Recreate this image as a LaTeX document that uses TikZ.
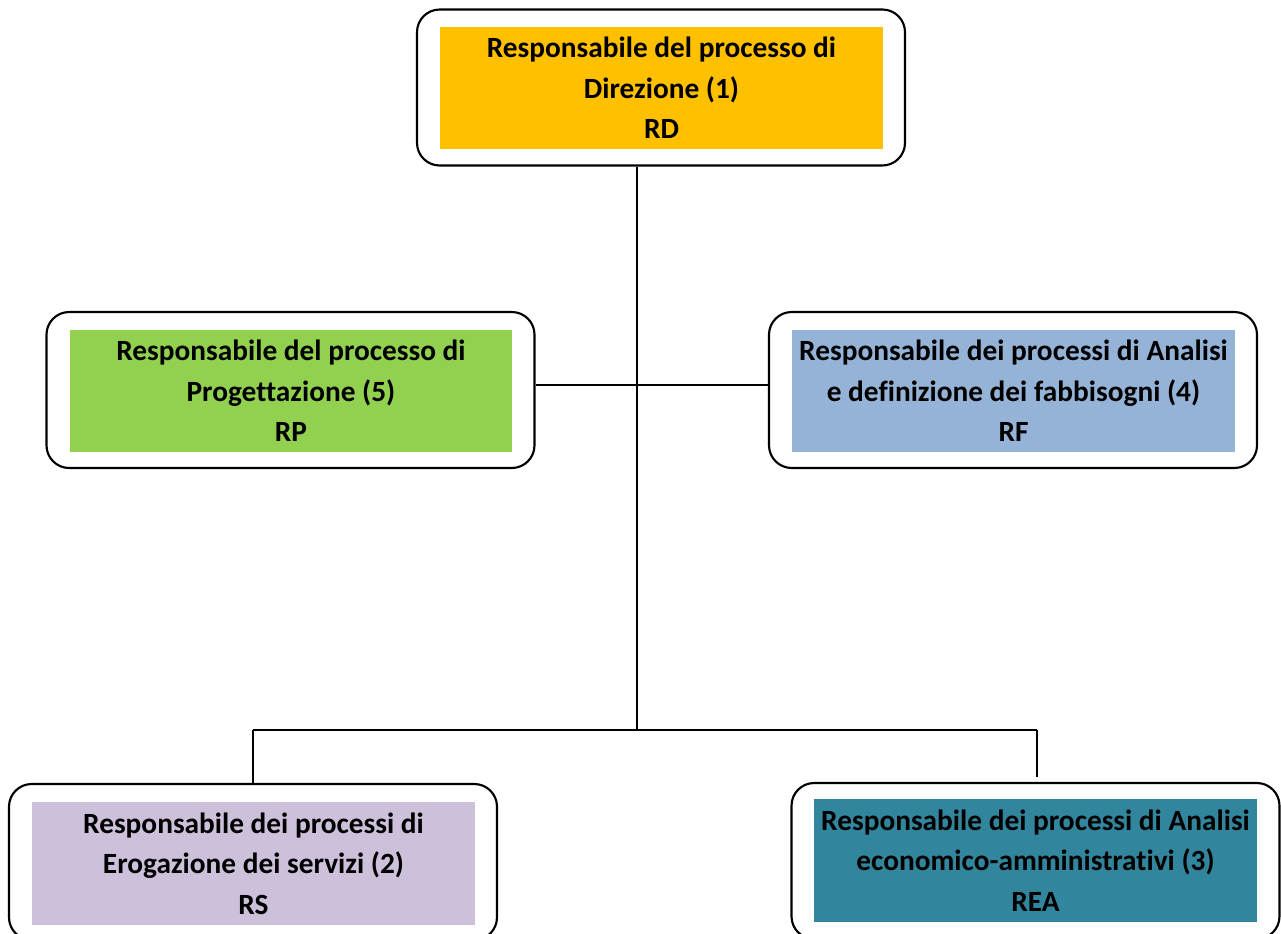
\documentclass[tikz,border=0pt]{standalone}
\usepackage{fontspec}
\setmainfont[Ligatures=NoCommon]{Carlito}
\definecolor{cOrange}{HTML}{FFC000}
\definecolor{cGreen}{HTML}{92D050}
\definecolor{cBlue}{HTML}{95B3D7}
\definecolor{cLilac}{HTML}{CCC0DA}
\definecolor{cTeal}{HTML}{31859C}
\tikzset{
  outerbox/.style={draw=black, line width=1.6pt, rounded corners=17pt, minimum width=366pt, minimum height=117pt, inner sep=0pt},
  innerbox/.style={minimum width=332pt, minimum height=92pt, inner sep=0pt, align=center, font=\fontsize{22}{30.5}\selectfont\bfseries},
  conn/.style={draw=black, line width=1.1pt}
}
\begin{document}
\begin{tikzpicture}[x=0.75pt,y=-0.75pt]
\path[clip] (0,0) rectangle (1281,933);
\fill[white] (0,0) rectangle (1281,933);
% boxes
\node[outerbox] (rdo) at (661,87.5) {};
\node[innerbox, fill=cOrange] (rd) at (661.5,88) {Responsabile del processo di\\Direzione (1)\\RD};
\node[outerbox] (rpo) at (290.5,390) {};
\node[innerbox, fill=cGreen] (rp) at (291,391) {Responsabile del processo di\\Progettazione (5)\\RP};
\node[outerbox] (rfo) at (1013,390) {};
\node[innerbox, fill=cBlue] (rf) at (1013.5,391) {Responsabile dei processi di Analisi\\e definizione dei fabbisogni (4)\\RF};
\node[outerbox] (rso) at (253,862) {};
\node[innerbox, fill=cLilac] (rs) at (253.5,863.5) {Responsabile dei processi di\\Erogazione dei servizi (2)\\RS};
\node[outerbox] (reao) at (1035.5,861) {};
\node[innerbox, fill=cTeal] (rea) at (1035.5,860.5) {Responsabile dei processi di Analisi\\economico-amministrativi (3)\\REA};
% junctions
\coordinate (jm) at (637,385);
\coordinate (jb) at (637,730);
\coordinate (jl) at (253,730);
\coordinate (jr) at (1037,730);
% connectors
\draw[conn] (rdo.south -| jb) -- (jb);
\draw[conn] (rpo.east |- jm) -- (rfo.west |- jm);
\draw[conn] (jl) -- (jr);
\draw[conn] (jl) -- (rso.north);
\draw[conn] (jr) -- ([yshift=3.5pt]jr |- reao.north);
\end{tikzpicture}
\end{document}
